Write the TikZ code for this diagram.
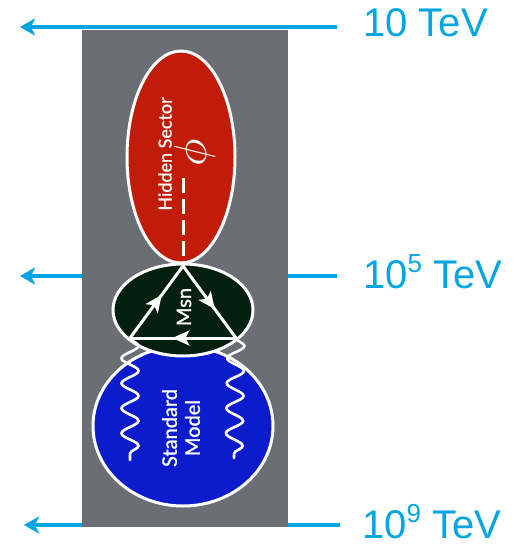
\documentclass[tikz,border=0pt]{standalone}
\usepackage{fontspec}
\setmainfont{Liberation Sans}
\newfontfamily\sectorfont[FakeBold=1.2]{Lato}
\usetikzlibrary{arrows.meta,decorations.pathmorphing,decorations.markings,shapes.geometric}

\definecolor{scalecyan}{RGB}{0,165,225}
\definecolor{panelgray}{RGB}{108,110,118}
\definecolor{hiddenred}{RGB}{192,28,8}
\definecolor{messgreen}{RGB}{3,32,14}
\definecolor{smblue}{RGB}{12,28,205}

\tikzset{
  scalearrow/.style={draw=scalecyan, line width=3.5pt,
    -{Stealth[length=15pt,width=17pt,inset=4pt]}},
  scalelabel/.style={text=scalecyan, inner sep=0pt, anchor=base west,
    font=\fontsize{40}{40}\selectfont},
  blob/.style={shape=ellipse, draw=white, line width=3pt, inner sep=0pt},
  sectorlabel/.style={text=white, inner sep=0pt, rotate=90,
    font=\sectorfont\fontsize{18}{23}\selectfont},
  loopline/.style={draw=white, line width=3pt,
    postaction={decorate, decoration={markings,
      mark=at position 0.6 with {\arrow{Stealth[length=17pt,width=15pt,inset=4pt]}}}}},
  gaugewave/.style={draw=white, line width=2.6pt, line cap=round,
    decorate, decoration={snake, segment length=25pt, amplitude=8.5pt}},
}

\newcommand{\expo}[1]{\raisebox{16pt}{\fontsize{26}{26}\selectfont #1}}

\begin{document}
\begin{tikzpicture}[x=1pt,y=-1pt]
\useasboundingbox (0,0) rectangle (513,545);

% energy scale: arrows run behind the panel
\coordinate (s1r) at (337,27);  \coordinate (s1l) at (20,27);
\coordinate (s2r) at (337,276); \coordinate (s2l) at (20,276);
\coordinate (s3r) at (340,525); \coordinate (s3l) at (24,525);
\draw[scalearrow] (s1r) -- (s1l);
\draw[scalearrow] (s2r) -- (s2l);
\draw[scalearrow] (s3r) -- (s3l);

\node[scalelabel] (e1) at (363,37) {10 TeV};
\node[scalelabel] (e2) at (363,288) {10\expo{5} TeV};
\node[scalelabel] (e3) at (362,538) {10\expo{9} TeV};

% chalkboard panel
\fill[panelgray] (82,30) rectangle (288,527);

% sectors
\node[blob, fill=hiddenred, minimum width=108pt, minimum height=212pt] (hidden) at (181,157) {};
\node[blob, fill=smblue, minimum width=180pt, minimum height=160pt] (sm) at (183,426) {};
\node[blob, fill=messgreen, minimum width=140pt, minimum height=92pt] (mess) at (183,310) {};

% messenger loop
\coordinate (apex) at (183,266);
\coordinate (bl) at (130,338);
\coordinate (br) at (236,338);
\draw[loopline] (bl) -- (apex);
\draw[loopline] (apex) -- (br);
\draw[loopline] (br) -- (bl);

% scalar line into the hidden sector
\coordinate (dtop) at (183,178);
\draw[white, line width=3pt, dash pattern=on 15pt off 6pt] (dtop) -- (apex);

% gauge bosons into the standard model
\coordinate (wl) at (130,460);
\coordinate (wr) at (234,458);
\draw[gaugewave] (bl) -- (wl);
\draw[gaugewave] (br) -- (wr);

% labels
\node[sectorlabel] (hslabel) at (165,154) {Hidden Sector};
\node[text=white, inner sep=0pt, rotate=90] (phi) at (195,153) {\scalebox{4.6}{$\phi$}};
\node[sectorlabel, font=\sectorfont\fontsize{20}{20}\selectfont] (msn) at (184,307) {Msn};
\node[sectorlabel, align=center, font=\sectorfont\fontsize{20}{23}\selectfont] (smlabel) at (181,428) {Standard\\Model};
\end{tikzpicture}
\end{document}
